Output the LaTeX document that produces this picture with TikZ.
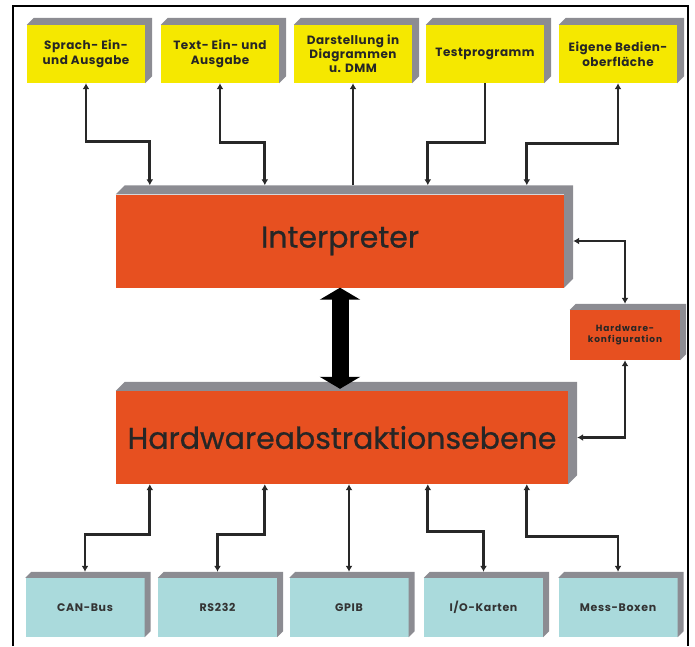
\documentclass[tikz,border=0pt]{standalone}
\usepackage{fontspec}
\setmainfont{Poppins}
\usetikzlibrary{arrows.meta}

\definecolor{boxyellow}{RGB}{245,232,0}
\definecolor{boxred}{RGB}{231,80,32}
\definecolor{boxcyan}{RGB}{170,218,220}
\definecolor{shadegrey}{RGB}{140,140,146}
\definecolor{linegrey}{RGB}{40,40,40}

\tikzset{
  topbox/.style={fill=boxyellow, minimum width=118pt, minimum height=58pt,
    inner sep=0pt, align=center, text=black!85,
    font=\bfseries\addfontfeature{LetterSpace=4}\fontsize{12}{15}\selectfont},
  bigbox/.style={fill=boxred, minimum height=93pt, inner sep=0pt,
    text=black!85, font=\addfontfeature{FakeBold=0.8}\fontsize{30}{34}\selectfont},
  confbox/.style={fill=boxred, minimum width=110pt, minimum height=50pt,
    inner sep=0pt, align=center, text=black!85,
    font=\bfseries\addfontfeature{LetterSpace=10}\fontsize{9}{11}\selectfont},
  busbox/.style={fill=boxcyan, minimum width=119pt, minimum height=59pt,
    inner sep=0pt, text=black!80,
    font=\bfseries\addfontfeature{LetterSpace=6}\fontsize{11}{13}\selectfont},
  biconn/.style={draw=linegrey, line width=2.7pt,
    {Latex[length=6pt,width=7pt]}-{Latex[length=6pt,width=7pt]}},
  conn/.style={draw=linegrey, line width=2.7pt, -{Latex[length=6pt,width=7pt]}},
  bigarrow/.style={draw=black, line width=17pt,
    {Triangle[length=12pt,width=40pt]}-{Triangle[length=12pt,width=40pt]}}
}

% grey top and right face of a box
\newcommand{\extrude}[2]{%
  \fill[shadegrey] (#1.north west) -- ([xshift=#2pt,yshift=#2pt]#1.north west)
    -- ([xshift=#2pt,yshift=#2pt]#1.north east)
    -- ([xshift=#2pt,yshift=#2pt]#1.south east)
    -- (#1.south east) -- (#1.north east) -- cycle;}

\begin{document}
\begin{tikzpicture}[x=1pt, y=-1pt]
  \useasboundingbox (0,0) rectangle (695,646);
  % frame
  \draw[line width=1.2pt] (13,646) -- (13,6) -- (688,6) -- (688,646);

  % top row
  \node[topbox] (spr) at (86,54)  {Sprach- Ein-\\und Ausgabe};
  \node[topbox] (txt) at (220,54) {Text- Ein- und\\Ausgabe};
  \node[topbox, font=\bfseries\addfontfeature{LetterSpace=4}\fontsize{12}{14}\selectfont]
    (dar) at (353,54) {Darstellung in\\Diagrammen\\u. DMM};
  \node[topbox] (tst) at (485,54) {Testprogramm};
  \node[topbox] (eig) at (618,54) {Eigene Bedien-\\oberfläche};
  \foreach \n in {spr,txt,dar,tst,eig} {\extrude{\n}{7}}

  % middle layer
  \node[bigbox, minimum width=448pt] (interp) at (340,241) {Interpreter};
  \node[bigbox, minimum width=452pt] (hae) at (342,437.5) {Hardwareabstraktionsebene};
  \node[confbox] (hk) at (625,335) {Hardware-\\konfiguration};
  \extrude{interp}{9}
  \extrude{hae}{9}
  \extrude{hk}{6}
  \coordinate (itop) at ([yshift=9pt]interp.north west);

  % bottom row
  \node[busbox] (can)  at (85,607.5)    {CAN-Bus};
  \node[busbox] (rs)   at (217.5,607.5) {RS232};
  \node[busbox] (gpib) at (349,607.5)   {GPIB};
  \node[busbox] (io)   at (483.5,607.5) {I/O-Karten};
  \node[busbox] (mess) at (618,607.5)   {Mess-Boxen};
  \foreach \n in {can,rs,gpib,io,mess} {\extrude{\n}{6}}

  % top connectors
  \draw[biconn] (spr.south) -- ++(0,58) -| ([xshift=34pt]itop);
  \draw[biconn] (txt.south) -- ++(0,59) -| ([xshift=149pt]itop);
  \draw[conn] (dar.south |- itop) -- (dar.south);
  \draw[conn] (tst.south) -- ++(0,59) -| ([xshift=312pt]itop);
  \draw[biconn] (eig.south) -- ++(0,60) -| ([xshift=411pt]itop);

  % interpreter <-> hardware layer
  \draw[bigarrow, shorten >=2pt] (interp.south) -- (interp.south |- hae.north);
  \draw[biconn] ([xshift=9pt]interp.east) -| ([yshift=6pt]hk.north);
  \draw[biconn] (hk.south) |- ([xshift=9pt]hae.east);

  % bottom connectors
  \draw[biconn] ([xshift=34pt]hae.south west) -- ++(0,50) -| ([yshift=6pt]can.north);
  \draw[biconn] ([xshift=149pt]hae.south west) -- ++(0,50) -| ([yshift=6pt]rs.north);
  \draw[biconn] (gpib.north |- hae.south) -- ([yshift=6pt]gpib.north);
  \draw[biconn] ([xshift=312pt]hae.south west) -- ++(0,47) -| ([yshift=6pt]io.north);
  \draw[biconn] ([xshift=411pt]hae.south west) -- ++(0,52) -| ([yshift=6pt]mess.north);
\end{tikzpicture}
\end{document}
